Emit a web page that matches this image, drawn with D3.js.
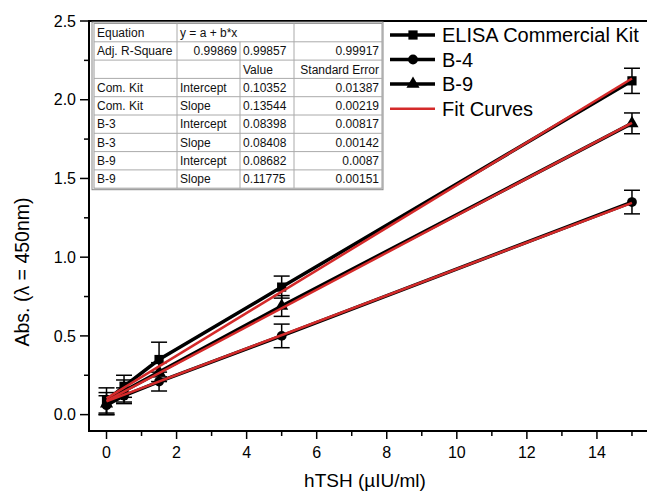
<!DOCTYPE html>
<html>
<head>
<meta charset="utf-8">
<script src="https://cdn.jsdelivr.net/npm/d3@7"></script>
<style>
  body { margin: 0; background: #fff; }
  svg { font-family: Arial, "Liberation Sans", sans-serif; }
</style>
</head>
<body>
<svg id="chart" width="647" height="494"></svg>
<script>
// hTSH concentrations
const doses = [0, 0.5, 1.5, 5, 15];

// measured absorbance + standard deviation per series
const kitAbs = [0.09, 0.18, 0.35, 0.81, 2.12];
const kitErr = [0.08, 0.07, 0.11, 0.07, 0.08];
const b4Abs = [0.06, 0.12, 0.21, 0.50, 1.35];
const b4Err = [0.06, 0.05, 0.06, 0.075, 0.075];
const b9Abs = [0.07, 0.15, 0.27, 0.69, 1.85];
const b9Err = [0.07, 0.07, 0.06, 0.066, 0.066];

// linear fit parameters (intercept, slope)
const fitIntercepts = [0.10352, 0.08398, 0.08682];
const fitSlopes = [0.13544, 0.08408, 0.11775];

const seriesNames = ["ELISA Commercial Kit", "B-4", "B-9"];
const seriesSymbols = ["square", "circle", "triangle"];

const xTicks = [0, 2, 4, 6, 8, 10, 12, 14];
const yTicks = [0.0, 0.5, 1.0, 1.5, 2.0, 2.5];

// fit results table
const tableRows = [
  ["Equation", "y = a + b*x", "", ""],
  ["Adj. R-Square", "0.99869", "0.99857", "0.99917"],
  ["", "", "Value", "Standard Error"],
  ["Com. Kit", "Intercept", "0.10352", "0.01387"],
  ["Com. Kit", "Slope", "0.13544", "0.00219"],
  ["B-3", "Intercept", "0.08398", "0.00817"],
  ["B-3", "Slope", "0.08408", "0.00142"],
  ["B-9", "Intercept", "0.08682", "0.0087"],
  ["B-9", "Slope", "0.11775", "0.00151"]
];

const svg = d3.select("#chart");
const plotLeft = 89, plotTop = 21, plotRight = 667, plotBottom = 431;

const x = d3.scaleLinear().domain([-0.5, 16]).range([plotLeft, plotRight]);
const y = d3.scaleLinear().domain([-0.104, 2.5]).range([plotBottom, plotTop]);

const red = "#d42a2a";

// plot frame
svg.append("rect")
  .attr("x", plotLeft).attr("y", plotTop)
  .attr("width", plotRight - plotLeft).attr("height", plotBottom - plotTop)
  .attr("fill", "none").attr("stroke", "#000").attr("stroke-width", 2);

// x axis ticks
const xAxis = svg.append("g").attr("transform", `translate(0,${plotBottom})`);
xAxis.selectAll(".minor").data(d3.range(1, 16, 2)).join("line")
  .attr("x1", d => x(d)).attr("x2", d => x(d))
  .attr("y1", 0).attr("y2", 5)
  .attr("stroke", "#000").attr("stroke-width", 1.5);
xAxis.selectAll(".major").data(xTicks).join("line")
  .attr("x1", d => x(d)).attr("x2", d => x(d))
  .attr("y1", 0).attr("y2", 8)
  .attr("stroke", "#000").attr("stroke-width", 1.5);
xAxis.selectAll("text").data(xTicks).join("text")
  .attr("x", d => x(d)).attr("y", 27)
  .attr("text-anchor", "middle").attr("font-size", 16)
  .text(d => d);

// y axis ticks
const yAxis = svg.append("g").attr("transform", `translate(${plotLeft},0)`);
yAxis.selectAll(".minor").data([0.25, 0.75, 1.25, 1.75, 2.25]).join("line")
  .attr("y1", d => y(d)).attr("y2", d => y(d))
  .attr("x1", 0).attr("x2", -5)
  .attr("stroke", "#000").attr("stroke-width", 1.5);
yAxis.selectAll(".major").data(yTicks).join("line")
  .attr("y1", d => y(d)).attr("y2", d => y(d))
  .attr("x1", 0).attr("x2", -9)
  .attr("stroke", "#000").attr("stroke-width", 1.5);
yAxis.selectAll("text").data(yTicks).join("text")
  .attr("x", -13).attr("y", d => y(d)).attr("dy", "0.36em")
  .attr("text-anchor", "end").attr("font-size", 16)
  .text(d => d3.format(".1f")(d));

// axis titles
svg.append("text")
  .attr("x", 365).attr("y", 487)
  .attr("text-anchor", "middle").attr("font-size", 19)
  .text("hTSH (\u00b5IU/ml)");
svg.append("text")
  .attr("transform", "translate(29,272) rotate(-90)")
  .attr("text-anchor", "middle").attr("font-size", 19.5)
  .text("Abs. (\u03bb = 450nm)");

const plot = svg.append("g");

const series = seriesNames.map((name, i) => ({
  name,
  symbol: seriesSymbols[i],
  values: [kitAbs, b4Abs, b9Abs][i],
  errors: [kitErr, b4Err, b9Err][i],
  a: fitIntercepts[i],
  b: fitSlopes[i]
}));

const symbolType = { square: d3.symbolSquare, circle: d3.symbolCircle, triangle: d3.symbolTriangle };
const symbolSize = { square: 85, circle: 75, triangle: 75 };

const line = d3.line().x(d => x(d[0])).y(d => y(d[1]));

// data lines
series.forEach(s => {
  const pts = doses.map((d, j) => [d, s.values[j]]);
  plot.append("path").datum(pts)
    .attr("d", line).attr("fill", "none")
    .attr("stroke", "#000").attr("stroke-width", 3.5);

  // error bars
  const eb = plot.append("g");
  pts.forEach((p, j) => {
    const e = s.errors[j];
    const cx = x(p[0]);
    eb.append("line")
      .attr("x1", cx).attr("x2", cx)
      .attr("y1", y(p[1] - e)).attr("y2", y(p[1] + e))
      .attr("stroke", "#000").attr("stroke-width", 1.5);
    [p[1] - e, p[1] + e].forEach(v => {
      eb.append("line")
        .attr("x1", cx - 8).attr("x2", cx + 8)
        .attr("y1", y(v)).attr("y2", y(v))
        .attr("stroke", "#000").attr("stroke-width", 1.5);
    });
  });

  plot.append("g").selectAll("path").data(pts).join("path")
    .attr("transform", d => `translate(${x(d[0])},${y(d[1])})`)
    .attr("d", d3.symbol().type(symbolType[s.symbol]).size(symbolSize[s.symbol]))
    .attr("fill", "#000");
});

// fit lines
series.forEach(s => {
  const fitPts = [0, 15].map(d => [d, s.a + s.b * d]);
  plot.append("path").datum(fitPts)
    .attr("d", line).attr("fill", "none")
    .attr("stroke", red).attr("stroke-width", 2.5);
});

// table
const colX = [94, 177, 240, 294, 382];
const rowY0 = 23.5, rowH = 18.3;
const table = svg.append("g").attr("font-size", 12).attr("fill", "#111");
table.append("rect")
  .attr("x", 92).attr("y", rowY0 - 1.5)
  .attr("width", colX[4] - 92 + 1).attr("height", rowH * tableRows.length + 3)
  .attr("fill", "#fff").attr("stroke", "#888").attr("stroke-width", 1);
table.append("rect")
  .attr("x", colX[0]).attr("y", rowY0)
  .attr("width", colX[4] - colX[0]).attr("height", rowH * tableRows.length)
  .attr("fill", "#fff").attr("stroke", "#999").attr("stroke-width", 1);
tableRows.forEach((row, r) => {
  const ry = rowY0 + r * rowH;
  if (r > 0) {
    table.append("line")
      .attr("x1", colX[0]).attr("x2", colX[4])
      .attr("y1", ry).attr("y2", ry)
      .attr("stroke", "#aaa").attr("stroke-width", 1);
  }
  [1, 2, 3].forEach(c => {
    if (r === 0 && c === 2) return;
    table.append("line")
      .attr("x1", colX[c]).attr("x2", colX[c])
      .attr("y1", ry).attr("y2", ry + rowH)
      .attr("stroke", "#aaa").attr("stroke-width", 1);
  });
  row.forEach((txt, c) => {
    if (!txt) return;
    const rightAlign = (c === 3) || (r === 1 && c === 1);
    table.append("text")
      .attr("x", rightAlign ? colX[c + 1] - 3 : colX[c] + 3)
      .attr("y", ry + rowH / 2).attr("dy", "0.36em")
      .attr("text-anchor", rightAlign ? "end" : "start")
      .text(txt);
  });
});

// legend
const legend = svg.append("g");
const legY = [35, 59.5, 84, 108.7];
series.forEach((s, i) => {
  legend.append("line")
    .attr("x1", 390).attr("x2", 435)
    .attr("y1", legY[i]).attr("y2", legY[i])
    .attr("stroke", "#000").attr("stroke-width", 3.5);
  legend.append("path")
    .attr("transform", `translate(413,${legY[i]})`)
    .attr("d", d3.symbol().type(symbolType[s.symbol]).size(symbolSize[s.symbol]))
    .attr("fill", "#000");
  legend.append("text")
    .attr("x", 442).attr("y", legY[i]).attr("dy", "0.36em")
    .attr("font-size", 20).text(s.name);
});
legend.append("line")
  .attr("x1", 390).attr("x2", 435)
  .attr("y1", legY[3]).attr("y2", legY[3])
  .attr("stroke", red).attr("stroke-width", 2.5);
legend.append("text")
  .attr("x", 442).attr("y", legY[3]).attr("dy", "0.36em")
  .attr("font-size", 20).text("Fit Curves");
</script>
</body>
</html>
